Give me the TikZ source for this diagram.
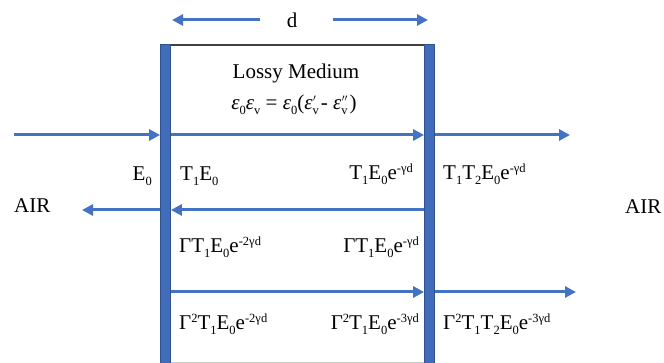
\documentclass[tikz,border=0pt]{standalone}
\usepackage{fontspec}
\setmainfont{Liberation Serif}
\usetikzlibrary{arrows.meta}
\definecolor{ablue}{HTML}{4472C4}
\definecolor{bblue}{HTML}{2F528F}
\newcommand{\sbx}[1]{\raisebox{-4.5pt}{\fontsize{12.5}{13}\selectfont #1}}
\newcommand{\spx}[1]{\raisebox{7.5pt}{\fontsize{12.5}{13}\selectfont #1}}
\newcommand{\sbsp}[2]{\makebox[0pt][l]{\kern0.5pt\raisebox{3pt}{\fontsize{14}{15}\selectfont #2}}\sbx{#1}\kern2pt}
\tikzset{
  bar/.style={draw=bblue, fill=ablue!95!black, line width=0.8pt, minimum width=10pt, minimum height=319pt, inner sep=0pt},
  arr/.style={draw=ablue, line width=3pt, -{Triangle[length=11pt,width=11pt]}},
  lbl/.style={inner sep=0pt, font=\fontsize{21}{25}\selectfont},
  topline/.style={draw=black!75, line width=1.5pt}
}
\begin{document}
\begin{tikzpicture}[x=1pt,y=-1pt]
\useasboundingbox (0,0) rectangle (664,363);
% frame lines
\coordinate (tl) at (160,45);
\coordinate (tr) at (435,45);
\draw[topline] (tl) -- (tr);
\coordinate (bl) at (160,362);
\coordinate (br) at (435,362);
\draw[black!20, line width=1pt] (bl) -- (br);
% bars
\node[bar] (lb) at (165.5,203.5) {};
\node[bar] (rb) at (429.5,203.5) {};
% d arrows and label
\node[lbl, anchor=base] (d) at (292,28) {d};
\coordinate (dlt) at (260,20);
\coordinate (dl) at (172,20);
\coordinate (drt) at (333,20);
\coordinate (dr) at (428,20);
\draw[arr] (dlt) -- (dl);
\draw[arr] (drt) -- (dr);
% row 1 arrows
\coordinate (in0) at (14,135);
\coordinate (out1) at (570,135);
\draw[arr] (in0) -- (in0 -| lb.west);
\draw[arr] (in0 -| lb.east) -- (in0 -| rb.west);
\draw[arr] (in0 -| rb.east) -- (out1);
% row 2 arrows
\coordinate (ref0) at (82,210);
\draw[arr] (ref0 -| rb.west) -- (ref0 -| lb.east);
\draw[arr] (ref0 -| lb.west) -- (ref0);
% row 3 arrows
\coordinate (out2) at (576,292);
\draw[arr] (out2 -| lb.east) -- (out2 -| rb.west);
\draw[arr] (out2 -| rb.east) -- (out2);
% texts
\node[lbl, anchor=base] (lm) at (296,79) {Lossy Medium};
\node[lbl, anchor=base] (eq) at (294,110) {\textit{ε}\sbx{0}\textit{ε}\sbx{v} = \textit{ε}\sbx{0}(\textit{ε}\sbsp{v}{$'$} - \textit{ε}\sbsp{v}{$''$})};
\node[lbl, anchor=base east] (e0) at (152,181) {E\sbx{0}};
\node[lbl, anchor=base west] (t1e0) at (180,181) {T\sbx{1}E\sbx{0}};
\node[lbl, anchor=base east] (t1e0g) at (413,180) {T\sbx{1}E\sbx{0}e\spx{-γd}};
\node[lbl, anchor=base west] (t1t2) at (443,180) {T\sbx{1}T\sbx{2}E\sbx{0}e\spx{-γd}};
\node[lbl, anchor=base west] (airl) at (14,213) {AIR};
\node[lbl, anchor=base west] (airr) at (625,214) {AIR};
\node[lbl, anchor=base west] (g1a) at (179,253) {ΓT\sbx{1}E\sbx{0}e\spx{-2γd}};
\node[lbl, anchor=base east] (g1b) at (419,253) {ΓT\sbx{1}E\sbx{0}e\spx{-γd}};
\node[lbl, anchor=base west] (g2a) at (179,330) {Γ\spx{2}T\sbx{1}E\sbx{0}e\spx{-2γd}};
\node[lbl, anchor=base east] (g2b) at (419,330) {Γ\spx{2}T\sbx{1}E\sbx{0}e\spx{-3γd}};
\node[lbl, anchor=base west] (g2c) at (443,330) {Γ\spx{2}T\sbx{1}T\sbx{2}E\sbx{0}e\spx{-3γd}};
\end{tikzpicture}
\end{document}
